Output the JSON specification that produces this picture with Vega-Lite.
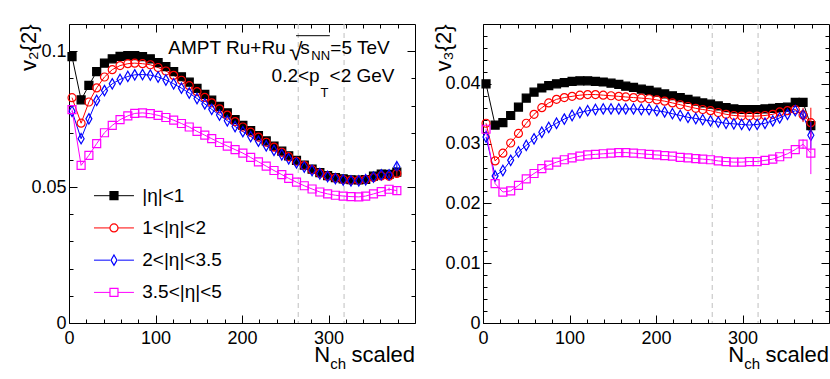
{
"$schema": "https://vega.github.io/schema/vega-lite/v6.json",
"background": "white",
"padding": {"left": 16, "top": 23, "right": 0, "bottom": 0},
"bounds": "flush",
"spacing": 68,
"datasets": {
"cuts": [{"x": 265}, {"x": 318}],
"leg": [{"s":"|η|<1"},{"s":"1<|η|<2"},{"s":"2<|η|<3.5"},{"s":"3.5<|η|<5"}],
"v2": [
{"s":"|η|<1","x":3.5,"y":0.0980},{"s":"|η|<1","x":14,"y":0.0821},{"s":"|η|<1","x":23,"y":0.0874},{"s":"|η|<1","x":32,"y":0.0925},{"s":"|η|<1","x":41,"y":0.0956},{"s":"|η|<1","x":50,"y":0.0972},{"s":"|η|<1","x":59,"y":0.0981},{"s":"|η|<1","x":68,"y":0.0984},{"s":"|η|<1","x":76,"y":0.0984},{"s":"|η|<1","x":85,"y":0.0980},{"s":"|η|<1","x":94,"y":0.0972},{"s":"|η|<1","x":103,"y":0.0958},{"s":"|η|<1","x":112,"y":0.0943},{"s":"|η|<1","x":121,"y":0.0925},{"s":"|η|<1","x":130,"y":0.0906},{"s":"|η|<1","x":139,"y":0.0886},{"s":"|η|<1","x":148,"y":0.0863},{"s":"|η|<1","x":157,"y":0.0841},{"s":"|η|<1","x":165,"y":0.0820},{"s":"|η|<1","x":174,"y":0.0797},{"s":"|η|<1","x":183,"y":0.0773},{"s":"|η|<1","x":192,"y":0.0748},{"s":"|η|<1","x":201,"y":0.0727},{"s":"|η|<1","x":210,"y":0.0708},{"s":"|η|<1","x":219,"y":0.0689},{"s":"|η|<1","x":228,"y":0.0670},{"s":"|η|<1","x":237,"y":0.0651},{"s":"|η|<1","x":246,"y":0.0632},{"s":"|η|<1","x":254,"y":0.0615},{"s":"|η|<1","x":263,"y":0.0598},{"s":"|η|<1","x":272,"y":0.0581},{"s":"|η|<1","x":281,"y":0.0566},{"s":"|η|<1","x":290,"y":0.0553},{"s":"|η|<1","x":299,"y":0.0542},{"s":"|η|<1","x":308,"y":0.0535},{"s":"|η|<1","x":317,"y":0.0530},{"s":"|η|<1","x":326,"y":0.0527},{"s":"|η|<1","x":335,"y":0.0526},{"s":"|η|<1","x":343,"y":0.0528},{"s":"|η|<1","x":352,"y":0.0540},{"s":"|η|<1","x":361,"y":0.0548},{"s":"|η|<1","x":370,"y":0.0547,"e":0.0006},{"s":"|η|<1","x":379,"y":0.0555,"e":0.0012},
{"s":"1<|η|<2","x":3.5,"y":0.0829},{"s":"1<|η|<2","x":14,"y":0.0735},{"s":"1<|η|<2","x":23,"y":0.0813},{"s":"1<|η|<2","x":32,"y":0.0865},{"s":"1<|η|<2","x":41,"y":0.0905},{"s":"1<|η|<2","x":50,"y":0.0932},{"s":"1<|η|<2","x":59,"y":0.0947},{"s":"1<|η|<2","x":68,"y":0.0954},{"s":"1<|η|<2","x":76,"y":0.0956},{"s":"1<|η|<2","x":85,"y":0.0954},{"s":"1<|η|<2","x":94,"y":0.0950},{"s":"1<|η|<2","x":103,"y":0.0940},{"s":"1<|η|<2","x":112,"y":0.0927},{"s":"1<|η|<2","x":121,"y":0.0911},{"s":"1<|η|<2","x":130,"y":0.0893},{"s":"1<|η|<2","x":139,"y":0.0873},{"s":"1<|η|<2","x":148,"y":0.0851},{"s":"1<|η|<2","x":157,"y":0.0830},{"s":"1<|η|<2","x":165,"y":0.0810},{"s":"1<|η|<2","x":174,"y":0.0788},{"s":"1<|η|<2","x":183,"y":0.0765},{"s":"1<|η|<2","x":192,"y":0.0741},{"s":"1<|η|<2","x":201,"y":0.0721},{"s":"1<|η|<2","x":210,"y":0.0702},{"s":"1<|η|<2","x":219,"y":0.0684},{"s":"1<|η|<2","x":228,"y":0.0665},{"s":"1<|η|<2","x":237,"y":0.0647},{"s":"1<|η|<2","x":246,"y":0.0628},{"s":"1<|η|<2","x":254,"y":0.0612},{"s":"1<|η|<2","x":263,"y":0.0595},{"s":"1<|η|<2","x":272,"y":0.0579},{"s":"1<|η|<2","x":281,"y":0.0564},{"s":"1<|η|<2","x":290,"y":0.0551},{"s":"1<|η|<2","x":299,"y":0.0540},{"s":"1<|η|<2","x":308,"y":0.0533},{"s":"1<|η|<2","x":317,"y":0.0528},{"s":"1<|η|<2","x":326,"y":0.0525},{"s":"1<|η|<2","x":335,"y":0.0525},{"s":"1<|η|<2","x":343,"y":0.0528},{"s":"1<|η|<2","x":352,"y":0.0535},{"s":"1<|η|<2","x":361,"y":0.0541},{"s":"1<|η|<2","x":370,"y":0.0540,"e":0.0006},{"s":"1<|η|<2","x":379,"y":0.0550,"e":0.0012},
{"s":"2<|η|<3.5","x":3.5,"y":0.0779},{"s":"2<|η|<3.5","x":14,"y":0.0678},{"s":"2<|η|<3.5","x":23,"y":0.0751},{"s":"2<|η|<3.5","x":32,"y":0.0819},{"s":"2<|η|<3.5","x":41,"y":0.0855},{"s":"2<|η|<3.5","x":50,"y":0.0880},{"s":"2<|η|<3.5","x":59,"y":0.0896},{"s":"2<|η|<3.5","x":68,"y":0.0907},{"s":"2<|η|<3.5","x":76,"y":0.0913},{"s":"2<|η|<3.5","x":85,"y":0.0914},{"s":"2<|η|<3.5","x":94,"y":0.0912},{"s":"2<|η|<3.5","x":103,"y":0.0905},{"s":"2<|η|<3.5","x":112,"y":0.0894},{"s":"2<|η|<3.5","x":121,"y":0.0880},{"s":"2<|η|<3.5","x":130,"y":0.0864},{"s":"2<|η|<3.5","x":139,"y":0.0846},{"s":"2<|η|<3.5","x":148,"y":0.0826},{"s":"2<|η|<3.5","x":157,"y":0.0806},{"s":"2<|η|<3.5","x":165,"y":0.0786},{"s":"2<|η|<3.5","x":174,"y":0.0765},{"s":"2<|η|<3.5","x":183,"y":0.0744},{"s":"2<|η|<3.5","x":192,"y":0.0723},{"s":"2<|η|<3.5","x":201,"y":0.0704},{"s":"2<|η|<3.5","x":210,"y":0.0686},{"s":"2<|η|<3.5","x":219,"y":0.0669},{"s":"2<|η|<3.5","x":228,"y":0.0652},{"s":"2<|η|<3.5","x":237,"y":0.0635},{"s":"2<|η|<3.5","x":246,"y":0.0619},{"s":"2<|η|<3.5","x":254,"y":0.0604},{"s":"2<|η|<3.5","x":263,"y":0.0589},{"s":"2<|η|<3.5","x":272,"y":0.0574},{"s":"2<|η|<3.5","x":281,"y":0.0561},{"s":"2<|η|<3.5","x":290,"y":0.0549},{"s":"2<|η|<3.5","x":299,"y":0.0539},{"s":"2<|η|<3.5","x":308,"y":0.0531},{"s":"2<|η|<3.5","x":317,"y":0.0526},{"s":"2<|η|<3.5","x":326,"y":0.0523},{"s":"2<|η|<3.5","x":335,"y":0.0523},{"s":"2<|η|<3.5","x":343,"y":0.0527},{"s":"2<|η|<3.5","x":352,"y":0.0537},{"s":"2<|η|<3.5","x":361,"y":0.0545},{"s":"2<|η|<3.5","x":370,"y":0.0545,"e":0.0006},{"s":"2<|η|<3.5","x":379,"y":0.0575,"e":0.0015},
{"s":"3.5<|η|<5","x":3.5,"y":0.0785},{"s":"3.5<|η|<5","x":14,"y":0.0580},{"s":"3.5<|η|<5","x":23,"y":0.0617},{"s":"3.5<|η|<5","x":32,"y":0.0660},{"s":"3.5<|η|<5","x":41,"y":0.0700},{"s":"3.5<|η|<5","x":50,"y":0.0727},{"s":"3.5<|η|<5","x":59,"y":0.0748},{"s":"3.5<|η|<5","x":68,"y":0.0762},{"s":"3.5<|η|<5","x":76,"y":0.0771},{"s":"3.5<|η|<5","x":85,"y":0.0773},{"s":"3.5<|η|<5","x":94,"y":0.0770},{"s":"3.5<|η|<5","x":103,"y":0.0764},{"s":"3.5<|η|<5","x":112,"y":0.0756},{"s":"3.5<|η|<5","x":121,"y":0.0746},{"s":"3.5<|η|<5","x":130,"y":0.0734},{"s":"3.5<|η|<5","x":139,"y":0.0721},{"s":"3.5<|η|<5","x":148,"y":0.0705},{"s":"3.5<|η|<5","x":157,"y":0.0691},{"s":"3.5<|η|<5","x":165,"y":0.0678},{"s":"3.5<|η|<5","x":174,"y":0.0664},{"s":"3.5<|η|<5","x":183,"y":0.0651},{"s":"3.5<|η|<5","x":192,"y":0.0638},{"s":"3.5<|η|<5","x":201,"y":0.0625},{"s":"3.5<|η|<5","x":210,"y":0.0609},{"s":"3.5<|η|<5","x":219,"y":0.0593},{"s":"3.5<|η|<5","x":228,"y":0.0577},{"s":"3.5<|η|<5","x":237,"y":0.0561},{"s":"3.5<|η|<5","x":246,"y":0.0546},{"s":"3.5<|η|<5","x":254,"y":0.0532},{"s":"3.5<|η|<5","x":263,"y":0.0518},{"s":"3.5<|η|<5","x":272,"y":0.0505},{"s":"3.5<|η|<5","x":281,"y":0.0493},{"s":"3.5<|η|<5","x":290,"y":0.0482},{"s":"3.5<|η|<5","x":299,"y":0.0475},{"s":"3.5<|η|<5","x":308,"y":0.0470},{"s":"3.5<|η|<5","x":317,"y":0.0467},{"s":"3.5<|η|<5","x":326,"y":0.0465},{"s":"3.5<|η|<5","x":335,"y":0.0464},{"s":"3.5<|η|<5","x":343,"y":0.0467},{"s":"3.5<|η|<5","x":352,"y":0.0475},{"s":"3.5<|η|<5","x":361,"y":0.0483},{"s":"3.5<|η|<5","x":370,"y":0.0492,"e":0.0006},{"s":"3.5<|η|<5","x":379,"y":0.0487,"e":0.0012}
],
"v3": [
{"s":"|η|<1","x":3.5,"y":0.0400},{"s":"|η|<1","x":14,"y":0.0331},{"s":"|η|<1","x":23,"y":0.0335},{"s":"|η|<1","x":32,"y":0.0347},{"s":"|η|<1","x":41,"y":0.0361},{"s":"|η|<1","x":50,"y":0.0376},{"s":"|η|<1","x":59,"y":0.0386},{"s":"|η|<1","x":68,"y":0.0393},{"s":"|η|<1","x":76,"y":0.0397},{"s":"|η|<1","x":85,"y":0.0400},{"s":"|η|<1","x":94,"y":0.0402},{"s":"|η|<1","x":103,"y":0.0404},{"s":"|η|<1","x":112,"y":0.0405},{"s":"|η|<1","x":121,"y":0.0405},{"s":"|η|<1","x":130,"y":0.0404},{"s":"|η|<1","x":139,"y":0.0403},{"s":"|η|<1","x":148,"y":0.0401},{"s":"|η|<1","x":157,"y":0.0399},{"s":"|η|<1","x":165,"y":0.0396},{"s":"|η|<1","x":174,"y":0.0394},{"s":"|η|<1","x":183,"y":0.0391},{"s":"|η|<1","x":192,"y":0.0389},{"s":"|η|<1","x":201,"y":0.0386},{"s":"|η|<1","x":210,"y":0.0383},{"s":"|η|<1","x":219,"y":0.0380},{"s":"|η|<1","x":228,"y":0.0377},{"s":"|η|<1","x":237,"y":0.0374},{"s":"|η|<1","x":246,"y":0.0371},{"s":"|η|<1","x":254,"y":0.0368},{"s":"|η|<1","x":263,"y":0.0366},{"s":"|η|<1","x":272,"y":0.0363},{"s":"|η|<1","x":281,"y":0.0360},{"s":"|η|<1","x":290,"y":0.0358},{"s":"|η|<1","x":299,"y":0.0357},{"s":"|η|<1","x":308,"y":0.0357},{"s":"|η|<1","x":317,"y":0.0357},{"s":"|η|<1","x":326,"y":0.0358},{"s":"|η|<1","x":335,"y":0.0359},{"s":"|η|<1","x":343,"y":0.0360},{"s":"|η|<1","x":352,"y":0.0361},{"s":"|η|<1","x":361,"y":0.0369},{"s":"|η|<1","x":370,"y":0.0369},{"s":"|η|<1","x":379,"y":0.0330,"e":0.0008},
{"s":"1<|η|<2","x":3.5,"y":0.0334},{"s":"1<|η|<2","x":14,"y":0.0271},{"s":"1<|η|<2","x":23,"y":0.0284},{"s":"1<|η|<2","x":32,"y":0.0301},{"s":"1<|η|<2","x":41,"y":0.0317},{"s":"1<|η|<2","x":50,"y":0.0334},{"s":"1<|η|<2","x":59,"y":0.0349},{"s":"1<|η|<2","x":68,"y":0.0360},{"s":"1<|η|<2","x":76,"y":0.0368},{"s":"1<|η|<2","x":85,"y":0.0374},{"s":"1<|η|<2","x":94,"y":0.0377},{"s":"1<|η|<2","x":103,"y":0.0379},{"s":"1<|η|<2","x":112,"y":0.0381},{"s":"1<|η|<2","x":121,"y":0.0382},{"s":"1<|η|<2","x":130,"y":0.0382},{"s":"1<|η|<2","x":139,"y":0.0381},{"s":"1<|η|<2","x":148,"y":0.0380},{"s":"1<|η|<2","x":157,"y":0.0379},{"s":"1<|η|<2","x":165,"y":0.0378},{"s":"1<|η|<2","x":174,"y":0.0377},{"s":"1<|η|<2","x":183,"y":0.0376},{"s":"1<|η|<2","x":192,"y":0.0375},{"s":"1<|η|<2","x":201,"y":0.0373},{"s":"1<|η|<2","x":210,"y":0.0371},{"s":"1<|η|<2","x":219,"y":0.0368},{"s":"1<|η|<2","x":228,"y":0.0365},{"s":"1<|η|<2","x":237,"y":0.0362},{"s":"1<|η|<2","x":246,"y":0.0359},{"s":"1<|η|<2","x":254,"y":0.0357},{"s":"1<|η|<2","x":263,"y":0.0355},{"s":"1<|η|<2","x":272,"y":0.0352},{"s":"1<|η|<2","x":281,"y":0.0349},{"s":"1<|η|<2","x":290,"y":0.0347},{"s":"1<|η|<2","x":299,"y":0.0346},{"s":"1<|η|<2","x":308,"y":0.0346},{"s":"1<|η|<2","x":317,"y":0.0346},{"s":"1<|η|<2","x":326,"y":0.0347},{"s":"1<|η|<2","x":335,"y":0.0349},{"s":"1<|η|<2","x":343,"y":0.0353},{"s":"1<|η|<2","x":352,"y":0.0355},{"s":"1<|η|<2","x":361,"y":0.0357},{"s":"1<|η|<2","x":370,"y":0.0348,"e":0.0012},{"s":"1<|η|<2","x":379,"y":0.0335,"e":0.0025},
{"s":"2<|η|<3.5","x":3.5,"y":0.0311},{"s":"2<|η|<3.5","x":14,"y":0.0246},{"s":"2<|η|<3.5","x":23,"y":0.0255},{"s":"2<|η|<3.5","x":32,"y":0.0272},{"s":"2<|η|<3.5","x":41,"y":0.0286},{"s":"2<|η|<3.5","x":50,"y":0.0297},{"s":"2<|η|<3.5","x":59,"y":0.0308},{"s":"2<|η|<3.5","x":68,"y":0.0319},{"s":"2<|η|<3.5","x":76,"y":0.0327},{"s":"2<|η|<3.5","x":85,"y":0.0334},{"s":"2<|η|<3.5","x":94,"y":0.0341},{"s":"2<|η|<3.5","x":103,"y":0.0347},{"s":"2<|η|<3.5","x":112,"y":0.0352},{"s":"2<|η|<3.5","x":121,"y":0.0355},{"s":"2<|η|<3.5","x":130,"y":0.0357},{"s":"2<|η|<3.5","x":139,"y":0.0358},{"s":"2<|η|<3.5","x":148,"y":0.0358},{"s":"2<|η|<3.5","x":157,"y":0.0358},{"s":"2<|η|<3.5","x":165,"y":0.0358},{"s":"2<|η|<3.5","x":174,"y":0.0358},{"s":"2<|η|<3.5","x":183,"y":0.0357},{"s":"2<|η|<3.5","x":192,"y":0.0357},{"s":"2<|η|<3.5","x":201,"y":0.0355},{"s":"2<|η|<3.5","x":210,"y":0.0353},{"s":"2<|η|<3.5","x":219,"y":0.0350},{"s":"2<|η|<3.5","x":228,"y":0.0347},{"s":"2<|η|<3.5","x":237,"y":0.0344},{"s":"2<|η|<3.5","x":246,"y":0.0342},{"s":"2<|η|<3.5","x":254,"y":0.0340},{"s":"2<|η|<3.5","x":263,"y":0.0338},{"s":"2<|η|<3.5","x":272,"y":0.0336},{"s":"2<|η|<3.5","x":281,"y":0.0334},{"s":"2<|η|<3.5","x":290,"y":0.0333},{"s":"2<|η|<3.5","x":299,"y":0.0332},{"s":"2<|η|<3.5","x":308,"y":0.0331},{"s":"2<|η|<3.5","x":317,"y":0.0332},{"s":"2<|η|<3.5","x":326,"y":0.0334},{"s":"2<|η|<3.5","x":335,"y":0.0338},{"s":"2<|η|<3.5","x":343,"y":0.0343},{"s":"2<|η|<3.5","x":352,"y":0.0349},{"s":"2<|η|<3.5","x":361,"y":0.0355},{"s":"2<|η|<3.5","x":370,"y":0.0348,"e":0.0008},{"s":"2<|η|<3.5","x":379,"y":0.0314,"e":0.0022},
{"s":"3.5<|η|<5","x":3.5,"y":0.0324},{"s":"3.5<|η|<5","x":14,"y":0.0233},{"s":"3.5<|η|<5","x":23,"y":0.0219},{"s":"3.5<|η|<5","x":32,"y":0.0221},{"s":"3.5<|η|<5","x":41,"y":0.0230},{"s":"3.5<|η|<5","x":50,"y":0.0241},{"s":"3.5<|η|<5","x":59,"y":0.0250},{"s":"3.5<|η|<5","x":68,"y":0.0258},{"s":"3.5<|η|<5","x":76,"y":0.0264},{"s":"3.5<|η|<5","x":85,"y":0.0269},{"s":"3.5<|η|<5","x":94,"y":0.0273},{"s":"3.5<|η|<5","x":103,"y":0.0276},{"s":"3.5<|η|<5","x":112,"y":0.0279},{"s":"3.5<|η|<5","x":121,"y":0.0281},{"s":"3.5<|η|<5","x":130,"y":0.0282},{"s":"3.5<|η|<5","x":139,"y":0.0283},{"s":"3.5<|η|<5","x":148,"y":0.0284},{"s":"3.5<|η|<5","x":157,"y":0.0285},{"s":"3.5<|η|<5","x":165,"y":0.0285},{"s":"3.5<|η|<5","x":174,"y":0.0284},{"s":"3.5<|η|<5","x":183,"y":0.0283},{"s":"3.5<|η|<5","x":192,"y":0.0282},{"s":"3.5<|η|<5","x":201,"y":0.0281},{"s":"3.5<|η|<5","x":210,"y":0.0280},{"s":"3.5<|η|<5","x":219,"y":0.0279},{"s":"3.5<|η|<5","x":228,"y":0.0277},{"s":"3.5<|η|<5","x":237,"y":0.0276},{"s":"3.5<|η|<5","x":246,"y":0.0275},{"s":"3.5<|η|<5","x":254,"y":0.0274},{"s":"3.5<|η|<5","x":263,"y":0.0273},{"s":"3.5<|η|<5","x":272,"y":0.0271},{"s":"3.5<|η|<5","x":281,"y":0.0270},{"s":"3.5<|η|<5","x":290,"y":0.0269},{"s":"3.5<|η|<5","x":299,"y":0.0269},{"s":"3.5<|η|<5","x":308,"y":0.0270},{"s":"3.5<|η|<5","x":317,"y":0.0270},{"s":"3.5<|η|<5","x":326,"y":0.0272},{"s":"3.5<|η|<5","x":335,"y":0.0274},{"s":"3.5<|η|<5","x":343,"y":0.0278},{"s":"3.5<|η|<5","x":352,"y":0.0283},{"s":"3.5<|η|<5","x":361,"y":0.0290},{"s":"3.5<|η|<5","x":370,"y":0.0299,"e":0.0008},{"s":"3.5<|η|<5","x":379,"y":0.0284,"e":0.0035}
]
},
"hconcat": [
{
"width": 346, "height": 299,
"layer": [
{"layer": [
{"data": {"name": "cuts"}, "mark": {"type": "rule", "strokeDash": [5, 4], "color": "#bfbfbf", "strokeWidth": 1},
 "encoding": {"x": {"field": "x", "type": "quantitative", "scale": {"domain": [0, 400], "nice": false},
  "axis": {"orient": "bottom", "values": [0,20,40,60,80,100,120,140,160,180,200,220,240,260,280,300,320,340,360,380], "format": "d",
   "tickSize": {"condition": {"test": "datum.value % 100 === 0", "value": -8}, "value": -4},
   "labelExpr": "datum.value % 100 === 0 ? datum.label : ''", "labelPadding": 14, "labelOverlap": false, "labelFlush": false, "title": null}}}},
{"data": {"name": "v2"}, "mark": {"type": "line", "strokeWidth": 1},
 "encoding": {
  "x": {"field": "x", "type": "quantitative",
   "axis": {"orient": "top", "values": [0,20,40,60,80,100,120,140,160,180,200,220,240,260,280,300,320,340,360,380], "labels": false,
    "tickSize": {"condition": {"test": "datum.value % 100 === 0", "value": -8}, "value": -4}, "title": null}},
  "y": {"field": "y", "type": "quantitative", "scale": {"domain": [0, 0.11], "nice": false},
   "axis": {"orient": "left", "values": [0,0.01,0.02,0.03,0.04,0.05,0.06,0.07,0.08,0.09,0.1], "format": "~g",
    "tickSize": {"condition": {"test": "abs(datum.value*20-round(datum.value*20))<1e-6", "value": -8}, "value": -4},
    "labelExpr": "abs(datum.value*20-round(datum.value*20))<1e-6 ? datum.label : ''", "labelPadding": 11, "labelOverlap": false, "labelFlush": false,
    "title": "v₂{2}", "titleFontSize": 22, "titleAlign": "right", "titleBaseline": "alphabetic", "titleAngle": 270, "titleX": -34, "titleY": 0}},
  "stroke": {"field": "s", "type": "nominal", "scale": {"domain": ["|η|<1","1<|η|<2","2<|η|<3.5","3.5<|η|<5"], "range": ["#000000","#ff0000","#0000ff","#ff00ff"]}, "legend": null}
 }},
{"data": {"name": "v2"}, "mark": {"type": "point", "size": 64, "strokeWidth": 1.2, "opacity": 1},
 "encoding": {
  "x": {"field": "x", "type": "quantitative", "axis": null},
  "y": {"field": "y", "type": "quantitative",
   "axis": {"orient": "right", "values": [0,0.01,0.02,0.03,0.04,0.05,0.06,0.07,0.08,0.09,0.1], "labels": false,
    "tickSize": {"condition": {"test": "abs(datum.value*20-round(datum.value*20))<1e-6", "value": -8}, "value": -4}, "title": null}},
  "stroke": {"field": "s", "type": "nominal", "legend": null},
  "fill": {"field": "s", "type": "nominal", "scale": {"domain": ["|η|<1","1<|η|<2","2<|η|<3.5","3.5<|η|<5"], "range": ["#000000","transparent","transparent","transparent"]}, "legend": null},
  "shape": {"field": "s", "type": "nominal", "scale": {"domain": ["|η|<1","1<|η|<2","2<|η|<3.5","3.5<|η|<5"], "range": ["square","circle","M0,-1.3L0.75,0L0,1.3L-0.75,0Z","square"]}, "legend": null}
 }},
{"data": {"name": "v2"}, "transform": [{"filter": "datum.e > 0"}], "mark": {"type": "errorbar", "thickness": 1},
 "encoding": {
  "x": {"field": "x", "type": "quantitative", "axis": null},
  "y": {"field": "y", "type": "quantitative", "axis": null},
  "yError": {"field": "e"},
  "color": {"field": "s", "type": "nominal", "scale": {"domain": ["|η|<1","1<|η|<2","2<|η|<3.5","3.5<|η|<5"], "range": ["#000000","#ff0000","#0000ff","#ff00ff"]}, "legend": null}
 }},
{"data": {"values": [{}]}, "mark": {"type": "text", "align": "left", "baseline": "alphabetic", "fontSize": 19},
 "encoding": {"x": {"datum": 114.8, "type": "quantitative", "axis": null}, "y": {"datum": 0.099, "type": "quantitative", "axis": null}, "text": {"value": "AMPT Ru+Ru"}}},
{"data": {"values": [{}]}, "mark": {"type": "text", "align": "left", "baseline": "alphabetic", "fontSize": 24, "dx": 121, "dy": 6},
 "encoding": {"x": {"datum": 114.8, "type": "quantitative", "axis": null}, "y": {"datum": 0.099, "type": "quantitative", "axis": null}, "text": {"value": "√"}}},
{"data": {"values": [{}]}, "mark": {"type": "text", "align": "left", "baseline": "alphabetic", "fontSize": 19, "dx": 132},
 "encoding": {"x": {"datum": 114.8, "type": "quantitative", "axis": null}, "y": {"datum": 0.099, "type": "quantitative", "axis": null}, "text": {"value": "s"}}},
{"data": {"values": [{}]}, "mark": {"type": "text", "align": "left", "baseline": "alphabetic", "fontSize": 13, "dx": 143, "dy": 6},
 "encoding": {"x": {"datum": 114.8, "type": "quantitative", "axis": null}, "y": {"datum": 0.099, "type": "quantitative", "axis": null}, "text": {"value": "NN"}}},
{"data": {"values": [{}]}, "mark": {"type": "text", "align": "left", "baseline": "alphabetic", "fontSize": 19, "dx": 162},
 "encoding": {"x": {"datum": 114.8, "type": "quantitative", "axis": null}, "y": {"datum": 0.099, "type": "quantitative", "axis": null}, "text": {"value": "=5 TeV"}}},
{"data": {"values": [{}]}, "mark": {"type": "rule", "strokeWidth": 1, "color": "black"},
 "encoding": {"x": {"datum": 262.5, "type": "quantitative", "axis": null}, "x2": {"datum": 301.5}, "y": {"datum": 0.1057, "type": "quantitative", "axis": null}}},
{"data": {"values": [{}]}, "mark": {"type": "text", "align": "left", "baseline": "alphabetic", "fontSize": 19},
 "encoding": {"x": {"datum": 234.2, "type": "quantitative", "axis": null}, "y": {"datum": 0.0885, "type": "quantitative", "axis": null}, "text": {"value": "0.2<p"}}},
{"data": {"values": [{}]}, "mark": {"type": "text", "align": "left", "baseline": "alphabetic", "fontSize": 13, "dx": 49, "dy": 15},
 "encoding": {"x": {"datum": 234.2, "type": "quantitative", "axis": null}, "y": {"datum": 0.0885, "type": "quantitative", "axis": null}, "text": {"value": "T"}}},
{"data": {"values": [{}]}, "mark": {"type": "text", "align": "left", "baseline": "alphabetic", "fontSize": 19, "dx": 58},
 "encoding": {"x": {"datum": 234.2, "type": "quantitative", "axis": null}, "y": {"datum": 0.0885, "type": "quantitative", "axis": null}, "text": {"value": "<2 GeV"}}},
{"data": {"values": [{}]}, "mark": {"type": "text", "align": "left", "baseline": "alphabetic", "fontSize": 22, "dx": -100.7, "dy": 39.4},
 "encoding": {"x": {"datum": 400, "type": "quantitative", "axis": null}, "y": {"datum": 0, "type": "quantitative", "axis": null}, "text": {"value": "N"}}},
{"data": {"values": [{}]}, "mark": {"type": "text", "align": "left", "baseline": "alphabetic", "fontSize": 15, "dx": -84.7, "dy": 46},
 "encoding": {"x": {"datum": 400, "type": "quantitative", "axis": null}, "y": {"datum": 0, "type": "quantitative", "axis": null}, "text": {"value": "ch"}}},
{"data": {"values": [{}]}, "mark": {"type": "text", "align": "right", "baseline": "alphabetic", "fontSize": 22, "dy": 39.4},
 "encoding": {"x": {"datum": 400, "type": "quantitative", "axis": null}, "y": {"datum": 0, "type": "quantitative", "axis": null}, "text": {"value": "scaled"}}}
],
"resolve": {"axis": {"x": "independent", "y": "independent"}}
},
{"data": {"name": "leg"},
 "layer": [
  {"mark": {"type": "rule", "strokeWidth": 1},
   "encoding": {"x": {"datum": 28.9, "type": "quantitative", "axis": null}, "x2": {"datum": 47.4},
    "y": {"field": "s", "type": "nominal", "scale": {"type": "point", "domain": ["|η|<1","1<|η|<2","2<|η|<3.5","3.5<|η|<5"], "range": [171.7, 268.4], "padding": 0}, "axis": null},
    "stroke": {"field": "s", "type": "nominal", "legend": null}}},
  {"mark": {"type": "rule", "strokeWidth": 1},
   "encoding": {"x": {"datum": 56.6, "type": "quantitative", "axis": null}, "x2": {"datum": 75.1},
    "y": {"field": "s", "type": "nominal", "axis": null},
    "stroke": {"field": "s", "type": "nominal", "legend": null}}},
  {"mark": {"type": "point", "size": 64, "strokeWidth": 1.2, "opacity": 1},
   "encoding": {"x": {"datum": 52, "type": "quantitative", "axis": null},
    "y": {"field": "s", "type": "nominal", "axis": null},
    "stroke": {"field": "s", "type": "nominal", "legend": null},
    "fill": {"field": "s", "type": "nominal", "legend": null},
    "shape": {"field": "s", "type": "nominal", "legend": null}}},
  {"mark": {"type": "text", "align": "left", "baseline": "middle", "fontSize": 19},
   "encoding": {"x": {"datum": 84.7, "type": "quantitative", "axis": null},
    "y": {"field": "s", "type": "nominal", "axis": null},
    "text": {"field": "s", "type": "nominal"}}}
 ]}
],
"resolve": {"scale": {"y": "independent"}, "axis": {"x": "independent", "y": "independent"}}
},
{
"width": 346, "height": 299,
"layer": [
{"data": {"name": "cuts"}, "mark": {"type": "rule", "strokeDash": [5, 4], "color": "#bfbfbf", "strokeWidth": 1},
 "encoding": {"x": {"field": "x", "type": "quantitative", "scale": {"domain": [0, 400], "nice": false},
  "axis": {"orient": "bottom", "values": [0,20,40,60,80,100,120,140,160,180,200,220,240,260,280,300,320,340,360,380], "format": "d",
   "tickSize": {"condition": {"test": "datum.value % 100 === 0", "value": -8}, "value": -4},
   "labelExpr": "datum.value % 100 === 0 ? datum.label : ''", "labelPadding": 14, "labelOverlap": false, "labelFlush": false, "title": null}}}},
{"data": {"name": "v3"}, "mark": {"type": "line", "strokeWidth": 1},
 "encoding": {
  "x": {"field": "x", "type": "quantitative",
   "axis": {"orient": "top", "values": [0,20,40,60,80,100,120,140,160,180,200,220,240,260,280,300,320,340,360,380], "labels": false,
    "tickSize": {"condition": {"test": "datum.value % 100 === 0", "value": -8}, "value": -4}, "title": null}},
  "y": {"field": "y", "type": "quantitative", "scale": {"domain": [0, 0.05], "nice": false},
   "axis": {"orient": "left", "values": [0,0.002,0.004,0.006,0.008,0.01,0.012,0.014,0.016,0.018,0.02,0.022,0.024,0.026,0.028,0.03,0.032,0.034,0.036,0.038,0.04,0.042,0.044,0.046,0.048], "format": "~g",
    "tickSize": {"condition": {"test": "abs(datum.value*100-round(datum.value*100))<1e-6", "value": -8}, "value": -4},
    "labelExpr": "abs(datum.value*100-round(datum.value*100))<1e-6 ? datum.label : ''", "labelPadding": 11, "labelOverlap": false, "labelFlush": false,
    "title": "v₃{2}", "titleFontSize": 22, "titleAlign": "right", "titleBaseline": "alphabetic", "titleAngle": 270, "titleX": -33, "titleY": 0}},
  "stroke": {"field": "s", "type": "nominal", "scale": {"domain": ["|η|<1","1<|η|<2","2<|η|<3.5","3.5<|η|<5"], "range": ["#000000","#ff0000","#0000ff","#ff00ff"]}, "legend": null}
 }},
{"data": {"name": "v3"}, "mark": {"type": "point", "size": 64, "strokeWidth": 1.2, "opacity": 1},
 "encoding": {
  "x": {"field": "x", "type": "quantitative", "axis": null},
  "y": {"field": "y", "type": "quantitative",
   "axis": {"orient": "right", "values": [0,0.002,0.004,0.006,0.008,0.01,0.012,0.014,0.016,0.018,0.02,0.022,0.024,0.026,0.028,0.03,0.032,0.034,0.036,0.038,0.04,0.042,0.044,0.046,0.048], "labels": false,
    "tickSize": {"condition": {"test": "abs(datum.value*100-round(datum.value*100))<1e-6", "value": -8}, "value": -4}, "title": null}},
  "stroke": {"field": "s", "type": "nominal", "legend": null},
  "fill": {"field": "s", "type": "nominal", "scale": {"domain": ["|η|<1","1<|η|<2","2<|η|<3.5","3.5<|η|<5"], "range": ["#000000","transparent","transparent","transparent"]}, "legend": null},
  "shape": {"field": "s", "type": "nominal", "scale": {"domain": ["|η|<1","1<|η|<2","2<|η|<3.5","3.5<|η|<5"], "range": ["square","circle","M0,-1.3L0.75,0L0,1.3L-0.75,0Z","square"]}, "legend": null}
 }},
{"data": {"name": "v3"}, "transform": [{"filter": "datum.e > 0"}], "mark": {"type": "errorbar", "thickness": 1},
 "encoding": {
  "x": {"field": "x", "type": "quantitative", "axis": null},
  "y": {"field": "y", "type": "quantitative", "axis": null},
  "yError": {"field": "e"},
  "color": {"field": "s", "type": "nominal", "scale": {"domain": ["|η|<1","1<|η|<2","2<|η|<3.5","3.5<|η|<5"], "range": ["#000000","#ff0000","#0000ff","#ff00ff"]}, "legend": null}
 }},
{"data": {"values": [{}]}, "mark": {"type": "text", "align": "left", "baseline": "alphabetic", "fontSize": 22, "dx": -100.7, "dy": 39.4},
 "encoding": {"x": {"datum": 400, "type": "quantitative", "axis": null}, "y": {"datum": 0, "type": "quantitative", "axis": null}, "text": {"value": "N"}}},
{"data": {"values": [{}]}, "mark": {"type": "text", "align": "left", "baseline": "alphabetic", "fontSize": 15, "dx": -84.7, "dy": 46},
 "encoding": {"x": {"datum": 400, "type": "quantitative", "axis": null}, "y": {"datum": 0, "type": "quantitative", "axis": null}, "text": {"value": "ch"}}},
{"data": {"values": [{}]}, "mark": {"type": "text", "align": "right", "baseline": "alphabetic", "fontSize": 22, "dy": 39.4},
 "encoding": {"x": {"datum": 400, "type": "quantitative", "axis": null}, "y": {"datum": 0, "type": "quantitative", "axis": null}, "text": {"value": "scaled"}}}
],
"resolve": {"axis": {"x": "independent", "y": "independent"}}
}
],
"config": {
 "font": "Liberation Sans",
 "view": {"stroke": "black", "strokeWidth": 1},
 "axis": {"domain": false, "grid": false, "tickColor": "black", "tickWidth": 1, "labelColor": "black", "labelFont": "Liberation Sans", "labelFontSize": 18, "titleFont": "Liberation Sans", "titleFontWeight": "normal", "titleColor": "black"},
 "text": {"font": "Liberation Sans", "color": "black"}
}
}
